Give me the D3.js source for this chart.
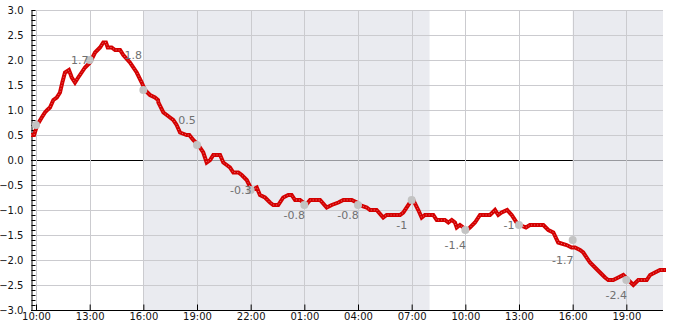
<!DOCTYPE html>
<html><head><meta charset="utf-8">
<script src="https://cdn.jsdelivr.net/npm/d3@7"></script>
<style>body{margin:0;background:#fff}svg{display:block;font-family:"DejaVu Sans",sans-serif}</style>
</head><body><svg id="c" width="685" height="330"></svg>
<script>
// hours since 10:00 on day 1
const hours = [-0.28,-0.11,0.07,0.32,0.50,0.63,0.78,0.97,1.16,1.34,1.47,1.62,1.84,2.00,2.18,2.36,2.55,2.74,3.02,3.30,3.58,3.76,3.91,4.01,4.23,4.42,4.70,4.88,5.25,5.63,5.91,6.09,6.37,6.65,6.82,6.84,7.12,7.31,7.49,7.67,7.86,8.05,8.42,8.57,8.79,9.07,9.35,9.54,9.73,9.91,10.29,10.47,10.66,10.84,11.03,11.31,11.50,11.78,12.06,12.34,12.52,12.80,13.08,13.26,13.54,13.82,14.10,14.29,14.48,14.76,14.94,15.09,15.32,15.88,16.25,16.53,16.90,17.18,17.65,17.93,18.07,18.49,18.67,19.04,19.41,19.60,20.35,20.53,20.91,21.09,21.37,21.56,21.74,22.21,22.40,22.86,23.05,23.24,23.42,23.52,23.70,23.89,24.08,24.26,24.54,24.82,25.38,25.66,25.84,26.03,26.34,26.59,26.87,27.05,27.39,27.61,28.36,28.64,28.92,29.19,29.66,29.94,30.13,30.41,30.59,30.97,31.25,31.53,31.81,31.99,32.27,32.55,32.83,33.11,33.39,33.67,34.14,34.33,34.60,34.88,35.16];
const values = [0.5,0.5,0.7,0.85,0.95,1.0,1.05,1.2,1.25,1.35,1.55,1.75,1.8,1.65,1.55,1.65,1.75,1.85,1.95,2.15,2.25,2.35,2.35,2.25,2.25,2.2,2.2,2.1,1.95,1.75,1.55,1.4,1.3,1.25,1.2,1.15,0.95,0.9,0.85,0.8,0.7,0.55,0.5,0.5,0.4,0.3,0.15,-0.05,0.0,0.1,0.1,-0.05,-0.1,-0.15,-0.25,-0.25,-0.3,-0.4,-0.6,-0.55,-0.7,-0.75,-0.85,-0.9,-0.9,-0.75,-0.7,-0.7,-0.8,-0.8,-0.85,-0.9,-0.8,-0.8,-0.95,-0.9,-0.85,-0.8,-0.8,-0.85,-0.9,-0.95,-1.0,-1.0,-1.15,-1.1,-1.1,-1.05,-0.85,-0.8,-1.0,-1.15,-1.1,-1.1,-1.2,-1.2,-1.25,-1.2,-1.25,-1.35,-1.3,-1.35,-1.4,-1.35,-1.25,-1.1,-1.1,-1.0,-1.1,-1.05,-1.0,-1.1,-1.25,-1.3,-1.35,-1.3,-1.3,-1.4,-1.45,-1.65,-1.7,-1.75,-1.75,-1.8,-1.85,-2.05,-2.15,-2.25,-2.35,-2.4,-2.4,-2.35,-2.3,-2.4,-2.5,-2.4,-2.4,-2.3,-2.25,-2.2,-2.2];
const markerHours = [0,3,6,9,12,15,18,21,24,27,30,33];
const markerValues = [0.7,2.0,1.4,0.3,-0.6,-0.9,-0.9,-0.8,-1.4,-1.3,-1.6,-2.4];
const markerLabels = [null,"1.7","1.8","0.5","-0.3","-0.8","-0.8","-1","-1.4","-1","-1.7","-2.4"];
const labelValues = [null,1.7,1.8,0.5,-0.3,-0.8,-0.8,-1,-1.4,-1,-1.7,-2.4];
const tickLabels = ["10:00","13:00","16:00","19:00","22:00","01:00","04:00","07:00","10:00","13:00","16:00","19:00"];
const tickHours = [0,3,6,9,12,15,18,21,24,27,30,33];
const shadeRanges = [[6,22],[30,35.05]];
const domainHours = [-0.28,35.05];
const yMajor = [3,2.5,2,1.5,1,0.5,0,-0.5,-1,-1.5,-2,-2.5,-3];

const base = new Date(2024,0,1,10,0);
const toDate = h => new Date(base.getTime()+h*3600000);

const svg = d3.select("#c");
const L=31,R=663,T=10,B=310;
const x = d3.scaleTime().domain(domainHours.map(toDate)).range([L,R]);
const y = d3.scaleLinear().domain([-3,3]).range([B,T]);

// zero line (under shade)
svg.append("line").attr("x1",L).attr("x2",R).attr("y1",y(0)).attr("y2",y(0)).attr("stroke","#000").attr("stroke-width",1).attr("shape-rendering","crispEdges");

// shade
svg.selectAll("rect.shade").data(shadeRanges).join("rect").attr("class","shade")
  .attr("x",d=>x(toDate(d[0]))).attr("width",d=>x(toDate(d[1]))-x(toDate(d[0])))
  .attr("y",T).attr("height",B-T).attr("fill","rgb(224,226,233)").attr("fill-opacity",0.68);

// grid
svg.selectAll("line.hg").data(yMajor.filter(v=>v!==0)).join("line").attr("class","hg")
  .attr("x1",L).attr("x2",R).attr("y1",d=>Math.round(y(d))+0.5).attr("y2",d=>Math.round(y(d))+0.5)
  .attr("stroke","#cbcbcf").attr("stroke-width",1);
svg.selectAll("line.vg").data(tickHours).join("line").attr("class","vg")
  .attr("x1",d=>Math.round(x(toDate(d)))+0.5).attr("x2",d=>Math.round(x(toDate(d)))+0.5).attr("y1",T).attr("y2",B)
  .attr("stroke","#cbcbcf").attr("stroke-width",1);

// axes
const yAxisMinor = d3.axisRight(y).tickValues(d3.range(-30,31).map(i=>i/10)).tickSize(4).tickFormat("");
svg.append("g").attr("transform",`translate(${L+0.5},0)`).call(yAxisMinor)
  .call(g=>g.select(".domain").remove()).selectAll("line").attr("stroke","#000");
const yAxis = d3.axisLeft(y).tickValues(yMajor).tickSize(0).tickPadding(8).tickFormat(d3.format(".1f"));
svg.append("g").attr("transform",`translate(${L+0.5},0)`).call(yAxis)
  .call(g=>{g.select(".domain").attr("stroke","#000");g.selectAll("text").attr("font-size",10).attr("fill","#111").attr("font-family","DejaVu Sans");});

const xAxis = d3.axisTop(x).tickValues(tickHours.map(toDate)).tickSize(6).tickFormat((d,i)=>tickLabels[i]);
const gx = svg.append("g").attr("transform",`translate(0,${B+0.5})`).call(xAxis);
gx.select(".domain").attr("stroke","#000").attr("d",`M${L},0H${R}`);
gx.selectAll("line").attr("stroke","#000");
gx.selectAll("text").attr("y",9).attr("dy","0").attr("font-size",10).attr("fill","#111").attr("font-family","DejaVu Sans");

// clip
svg.append("clipPath").attr("id","clip").append("rect").attr("x",L).attr("y",T-3).attr("width",R-L+3).attr("height",B-T+3);

const pts = hours.map((h,i)=>[toDate(h),values[i]]);
const line = d3.line().x(d=>x(d[0])).y(d=>y(d[1]));
const gl = svg.append("g").attr("clip-path","url(#clip)");
gl.append("path").attr("d",line(pts)).attr("fill","none").attr("stroke","#d40000").attr("stroke-width",4).attr("stroke-linejoin","miter").attr("stroke-linecap","square");
gl.append("path").attr("d",line(pts)).attr("fill","none").attr("stroke","#fff").attr("stroke-opacity",0.45).attr("stroke-width",1).attr("stroke-dasharray","1,2");

// markers
svg.selectAll("circle.m").data(markerHours).join("circle").attr("class","m")
  .attr("cx",(d)=>x(toDate(d))).attr("cy",(d,i)=>y(markerValues[i])).attr("r",4).attr("fill","#c3c3c3");

// labels
svg.selectAll("text.lb").data(markerHours.map((h,i)=>({h,l:markerLabels[i],v:labelValues[i]})).filter(d=>d.l!==null))
  .join("text").attr("class","lb")
  .attr("x",d=>x(toDate(d.h))-10).attr("y",d=>y(d.v)+(d.v>=0?-15:15))
  .attr("text-anchor","middle").attr("dominant-baseline","central")
  .attr("font-size",11).attr("fill","#707070").text(d=>d.l);
</script></body></html>
